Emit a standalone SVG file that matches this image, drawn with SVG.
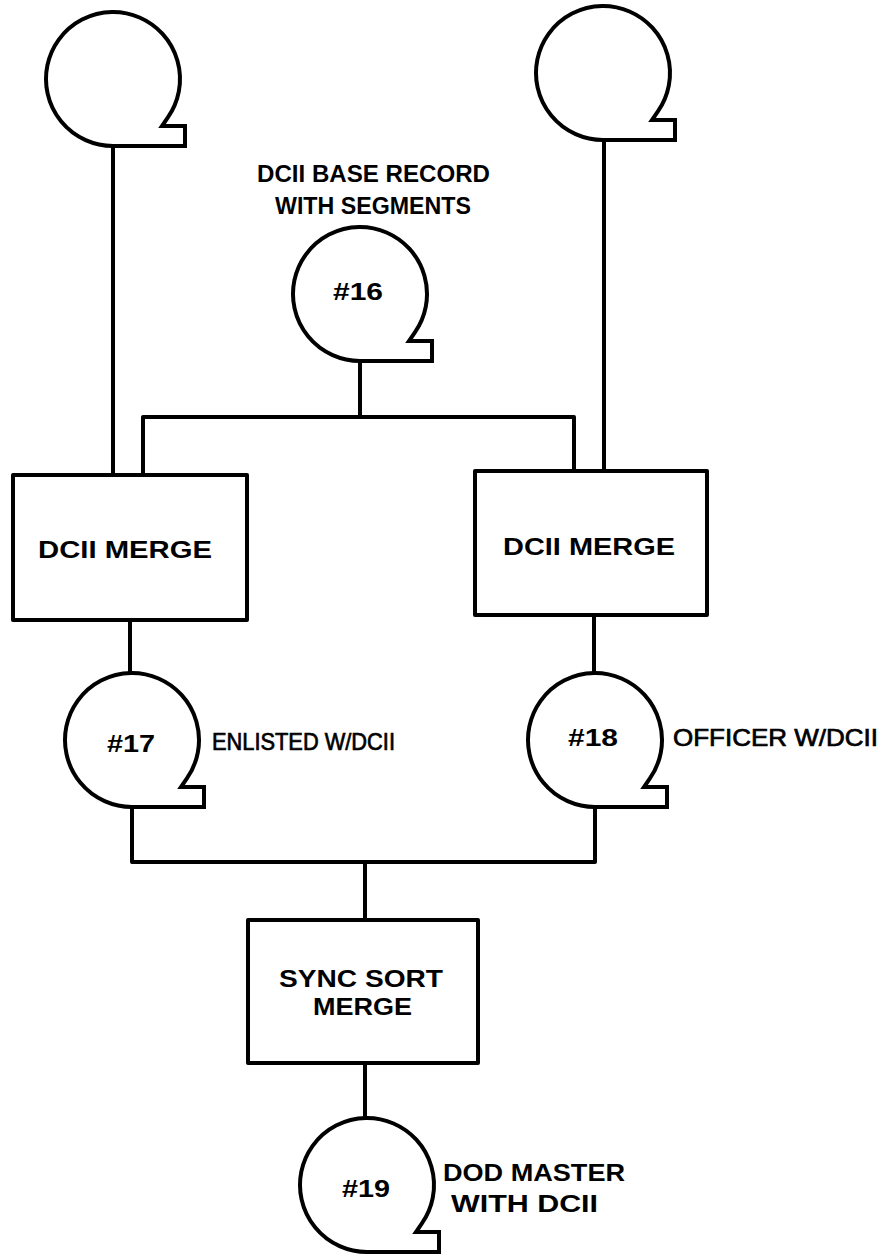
<svg xmlns="http://www.w3.org/2000/svg" xmlns:xlink="http://www.w3.org/1999/xlink" width="891" height="1256" viewBox="0 0 891 1256">
<style>
.ln{fill:none;stroke:#000;stroke-width:4;stroke-linejoin:round;stroke-linecap:butt}
.bx{fill:#fff;stroke:#000;stroke-width:4;stroke-linejoin:round}
.tp{fill:#fff;stroke:#000;stroke-width:4;stroke-linejoin:miter}
.tb{font-family:"Liberation Sans",Arial,sans-serif;font-weight:bold;font-size:24px;fill:#000}
.tn{font-family:"Liberation Sans",Arial,sans-serif;font-weight:normal;font-size:24px;fill:#000;stroke:#000;stroke-width:0.7}
</style>
<defs>
<path id="tape" d="M0,67 A67,67 0 1 1 54.9,38.4 L49,47 L72,47 L72,67 Z"/>
</defs>
<rect width="891" height="1256" fill="#fff"/>
<g id="connectors">
<path class="ln" d="M113,146 V475"/>
<path class="ln" d="M604,140 V471"/>
<path class="ln" d="M360,361 V417"/>
<path class="ln" d="M143,475 V417 H574 V471"/>
<path class="ln" d="M130,620 V673"/>
<path class="ln" d="M594,615 V673"/>
<path class="ln" d="M132,807 V862 H595 V807"/>
<path class="ln" d="M365,862 V920"/>
<path class="ln" d="M365,1063 V1118"/>
</g>
<g id="tape-top-left">
<use xlink:href="#tape" href="#tape" class="tp" x="113" y="79"/>
</g>
<g id="tape-top-right">
<use xlink:href="#tape" href="#tape" class="tp" x="603" y="73"/>
</g>
<g id="tape-16">
<text class="tb" x="257" y="182" textLength="233" lengthAdjust="spacingAndGlyphs">DCII BASE RECORD</text>
<text class="tb" x="275" y="214" textLength="196" lengthAdjust="spacingAndGlyphs">WITH SEGMENTS</text>
<use xlink:href="#tape" href="#tape" class="tp" x="360" y="294"/>
<text class="tb" x="333" y="300" textLength="50" lengthAdjust="spacingAndGlyphs">#16</text>
</g>
<g id="merge-left">
<rect class="bx" x="13" y="475" width="234" height="145"/>
<text class="tb" x="38" y="558" textLength="174" lengthAdjust="spacingAndGlyphs">DCII MERGE</text>
</g>
<g id="merge-right">
<rect class="bx" x="475" y="471" width="232" height="144"/>
<text class="tb" x="503" y="555" textLength="172" lengthAdjust="spacingAndGlyphs">DCII MERGE</text>
</g>
<g id="tape-17">
<use xlink:href="#tape" href="#tape" class="tp" x="132" y="740"/>
<text class="tb" x="107" y="752" textLength="48" lengthAdjust="spacingAndGlyphs">#17</text>
<text class="tn" x="212" y="750" textLength="183" lengthAdjust="spacingAndGlyphs">ENLISTED W/DCII</text>
</g>
<g id="tape-18">
<use xlink:href="#tape" href="#tape" class="tp" x="595" y="740"/>
<text class="tb" x="568" y="746" textLength="50" lengthAdjust="spacingAndGlyphs">#18</text>
<text class="tn" x="673" y="746" textLength="205" lengthAdjust="spacingAndGlyphs">OFFICER W/DCII</text>
</g>
<g id="sync-sort-merge">
<rect class="bx" x="248" y="920" width="230" height="143"/>
<text class="tb" x="279" y="987" textLength="164" lengthAdjust="spacingAndGlyphs">SYNC SORT</text>
<text class="tb" x="313" y="1015" textLength="99" lengthAdjust="spacingAndGlyphs">MERGE</text>
</g>
<g id="tape-19">
<use xlink:href="#tape" href="#tape" class="tp" x="367" y="1185"/>
<text class="tb" x="342" y="1197" textLength="48" lengthAdjust="spacingAndGlyphs">#19</text>
<text class="tb" x="443" y="1181" textLength="182" lengthAdjust="spacingAndGlyphs">DOD MASTER</text>
<text class="tb" x="451" y="1212" textLength="147" lengthAdjust="spacingAndGlyphs">WITH DCII</text>
</g>
</svg>
